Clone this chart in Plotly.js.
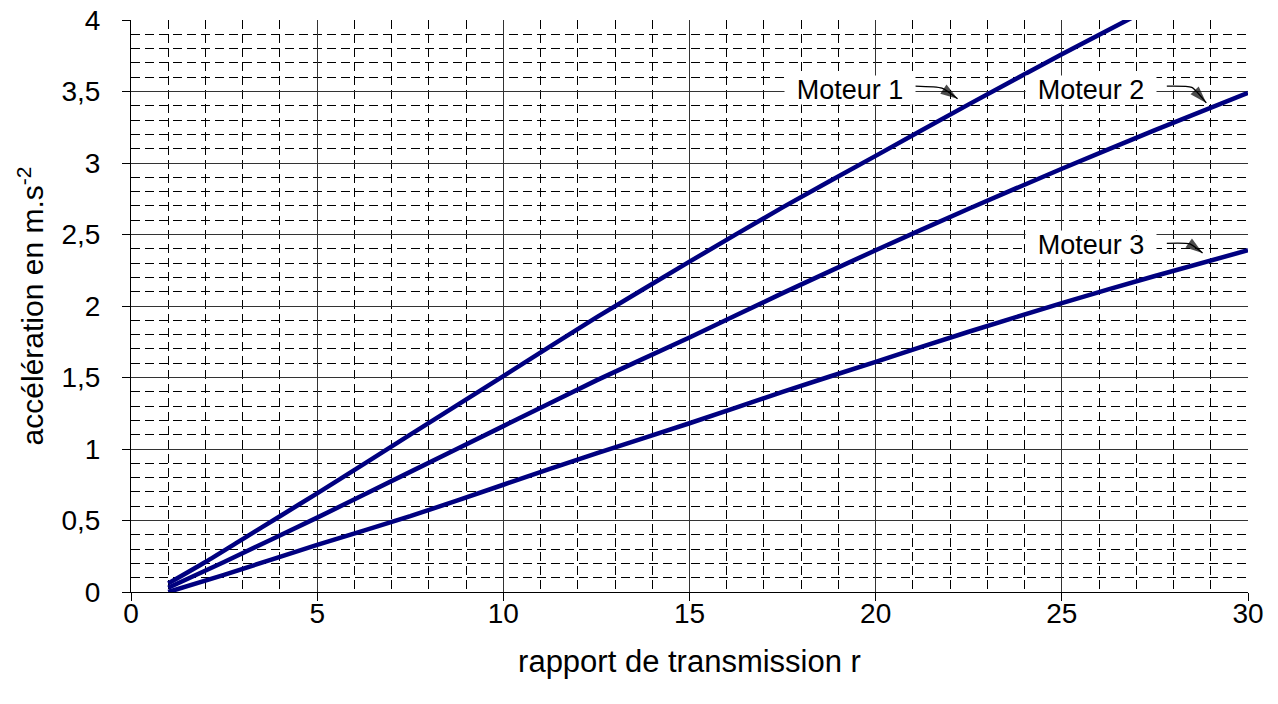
<!DOCTYPE html>
<html>
<head>
<meta charset="utf-8">
<script src="https://cdn.plot.ly/plotly-3.0.1.min.js"></script>
<style>html,body{margin:0;padding:0;background:#fff;}#chart{width:1278px;height:704px;}</style>
</head>
<body>
<div id="chart"></div>
<script>
// rapport de transmission r
const rMoteur1 = [1, 2, 3, 4, 5, 7.5, 10, 12.5, 15, 17.5, 20, 22.5, 25, 27.5];
const aMoteur1 = [0.06, 0.21, 0.37, 0.53, 0.69, 1.10, 1.51, 1.92, 2.31, 2.69, 3.05, 3.41, 3.76, 4.10];

const rMoteur2 = [1, 2.5, 5, 7.5, 10, 12.5, 15, 17.5, 20, 22.5, 25, 27.5, 30];
const aMoteur2 = [0.03, 0.21, 0.52, 0.84, 1.16, 1.48, 1.78, 2.09, 2.39, 2.68, 2.96, 3.23, 3.49];

const rMoteur3 = [1, 2.5, 5, 7.5, 10, 12.5, 15, 17.5, 20, 22.5, 25, 27.5, 30];
const aMoteur3 = [0.0, 0.12, 0.33, 0.53, 0.75, 0.97, 1.18, 1.40, 1.61, 1.82, 2.02, 2.21, 2.39];

const seriesNames = ["Moteur 1", "Moteur 2", "Moteur 3"];

const FONT = "Liberation Sans, Arial, sans-serif";
const lineStyle = {color: "#000080", width: 4.5, shape: "spline", smoothing: 0.6};

const traces = [
  {x: rMoteur1, y: aMoteur1, name: seriesNames[0]},
  {x: rMoteur2, y: aMoteur2, name: seriesNames[1]},
  {x: rMoteur3, y: aMoteur3, name: seriesNames[2]}
].map(t => Object.assign(t, {type: "scatter", mode: "lines", line: lineStyle, hoverinfo: "x+y+name"}));

// label boxes and arrows (positions in data units)
const labels = [
  {text: seriesNames[0], x: 19.3, y: 3.51, path: [[21.06, 3.538], [21.78, 3.524], [22.2, 3.45]]},
  {text: seriesNames[1], x: 25.78, y: 3.51, path: [[27.82, 3.538], [28.49, 3.529], [28.88, 3.42]]},
  {text: seriesNames[2], x: 25.78, y: 2.43, path: [[27.82, 2.438], [28.44, 2.434], [28.78, 2.37]]}
];

const annotations = [];
const arrowTraces = [];
labels.forEach(l => {
  annotations.push({
    x: l.x, y: l.y, xref: "x", yref: "y", text: l.text, showarrow: false,
    bgcolor: "#ffffff", borderpad: 3, width: 124, height: 22,
    font: {family: FONT, size: 27, color: "#000"}
  });
  arrowTraces.push({
    type: "scatter", mode: "lines+markers", hoverinfo: "skip",
    x: l.path.map(p => p[0]), y: l.path.map(p => p[1]),
    line: {color: "#000", width: 1.3, shape: "spline", smoothing: 0.5},
    marker: {symbol: ["circle", "circle", "arrow"], size: [0, 0, 18], angleref: "previous", color: "#000", line: {width: 0}}
  });
});

const layout = {
  width: 1278, height: 704,
  margin: {l: 131, r: 30, t: 20, b: 112},
  paper_bgcolor: "#fff", plot_bgcolor: "#fff",
  showlegend: false,
  separators: ", ",
  font: {family: FONT, size: 28, color: "#000"},
  xaxis: {
    range: [0, 30], dtick: 5, tick0: 0,
    showline: true, linecolor: "#000", linewidth: 1,
    ticks: "outside", ticklen: 8, tickcolor: "#000",
    showgrid: true, gridcolor: "#333", gridwidth: 1,
    zeroline: false,
    ticklabelstandoff: -12,
    tickfont: {family: FONT, size: 28, color: "#000"},
    minor: {dtick: 1, showgrid: true, gridcolor: "#000", gridwidth: 1, griddash: "9px,5px", ticks: ""},
    title: {text: "rapport de transmission r", font: {family: FONT, size: 31, color: "#000"}, standoff: 22}
  },
  yaxis: {
    range: [0, 4], dtick: 0.5, tick0: 0,
    showline: true, linecolor: "#000", linewidth: 1,
    ticks: "outside", ticklen: 8, tickcolor: "#000",
    showgrid: true, gridcolor: "#333", gridwidth: 1,
    zeroline: false,
    ticklabelstandoff: 16,
    tickfont: {family: FONT, size: 28, color: "#000"},
    minor: {dtick: 0.1, showgrid: true, gridcolor: "#000", gridwidth: 1, griddash: "9px,5px", ticks: ""},
    title: {text: "accélération en m.s<sup>-2</sup>", font: {family: FONT, size: 30, color: "#000"}, standoff: 8}
  },
  annotations: annotations
};

Plotly.newPlot("chart", traces.concat(arrowTraces), layout, {displayModeBar: false, staticPlot: true});
</script>
</body>
</html>
